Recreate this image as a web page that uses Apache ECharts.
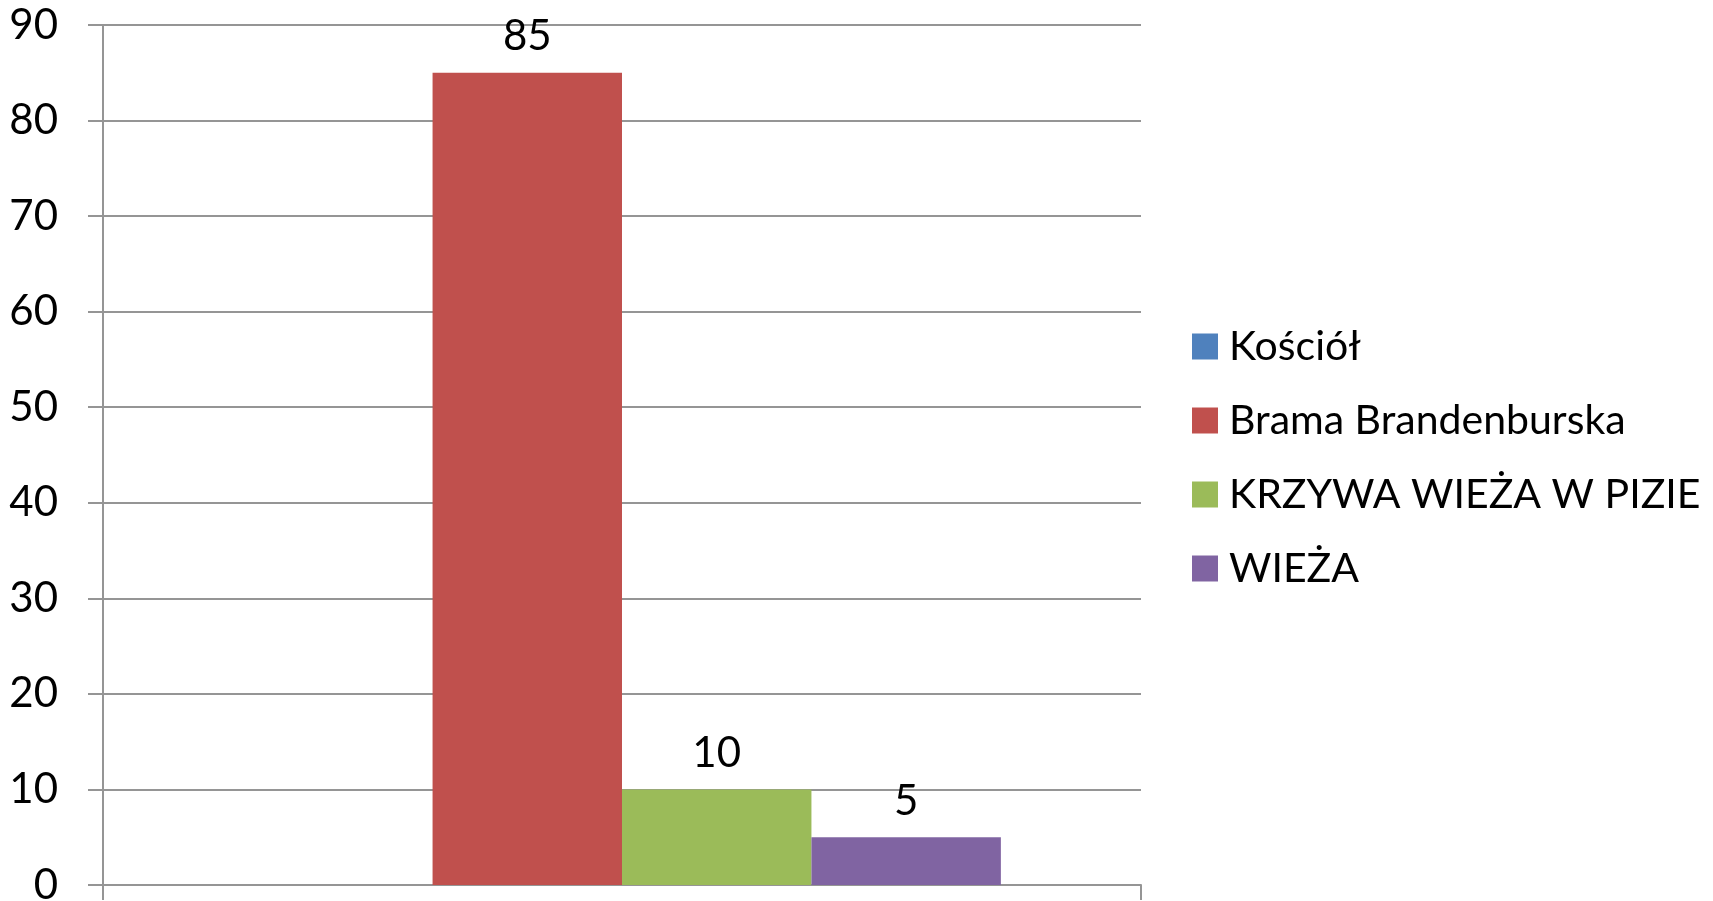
<!DOCTYPE html>
<html>
<head>
<meta charset="utf-8">
<script src="https://cdn.jsdelivr.net/npm/echarts@6/dist/echarts.min.js"></script>
<style>
  html, body { margin: 0; padding: 0; background: #fff; }
  #chart { width: 1713px; height: 901px; }
</style>
</head>
<body>
<div id="chart"></div>
<script>
// values
const categories = [''];
const seriesNames = ['Kościół', 'Brama Brandenburska', 'KRZYWA WIEŻA W PIZIE', 'WIEŻA'];
const seriesValues = [null, 85, 10, 5];
const seriesColors = ['#4F81BD', '#C0504D', '#9BBB59', '#8064A2'];
const yTicks = { min: 0, max: 90, interval: 10 };

const fontFamily = 'Lato, "Open Sans", sans-serif';
const gridColor = '#959595';

const chart = echarts.init(document.getElementById('chart'));

const series = seriesNames.map((name, i) => ({
  name: name,
  type: 'bar',
  data: [seriesValues[i]],
  barGap: '0%',
  barCategoryGap: '27%',
  itemStyle: { color: seriesColors[i] },
  label: {
    show: seriesValues[i] != null,
    position: 'top',
    distance: 15,
    color: '#000',
    fontSize: 42,
    fontFamily: fontFamily
  }
}));

chart.setOption({
  animation: false,
  backgroundColor: '#fff',
  grid: { left: 103, right: 572, top: 25, bottom: 16, outerBoundsMode: 'none' },
  legend: {
    orient: 'vertical',
    left: 1187,
    top: 321,
    itemWidth: 26,
    itemHeight: 26,
    itemGap: 33,
    icon: 'rect',
    textStyle: { fontSize: 41, lineHeight: 41, color: '#000', fontFamily: fontFamily, padding: [0, 0, 0, 6] },
    data: seriesNames
  },
  xAxis: {
    type: 'category',
    data: categories,
    axisLine: { lineStyle: { color: gridColor, width: 2 } },
    axisTick: { show: true, length: 15, lineStyle: { color: gridColor, width: 2 } },
    axisLabel: { show: false }
  },
  yAxis: {
    type: 'value',
    min: yTicks.min,
    max: yTicks.max,
    interval: yTicks.interval,
    axisLine: { show: true, lineStyle: { color: gridColor, width: 2 } },
    axisTick: { show: true, length: 15, lineStyle: { color: gridColor, width: 2 } },
    axisLabel: { margin: 45, fontSize: 42, color: '#000', fontFamily: fontFamily },
    splitLine: { show: true, lineStyle: { color: gridColor, width: 2 } }
  },
  series: series
});
</script>
</body>
</html>
